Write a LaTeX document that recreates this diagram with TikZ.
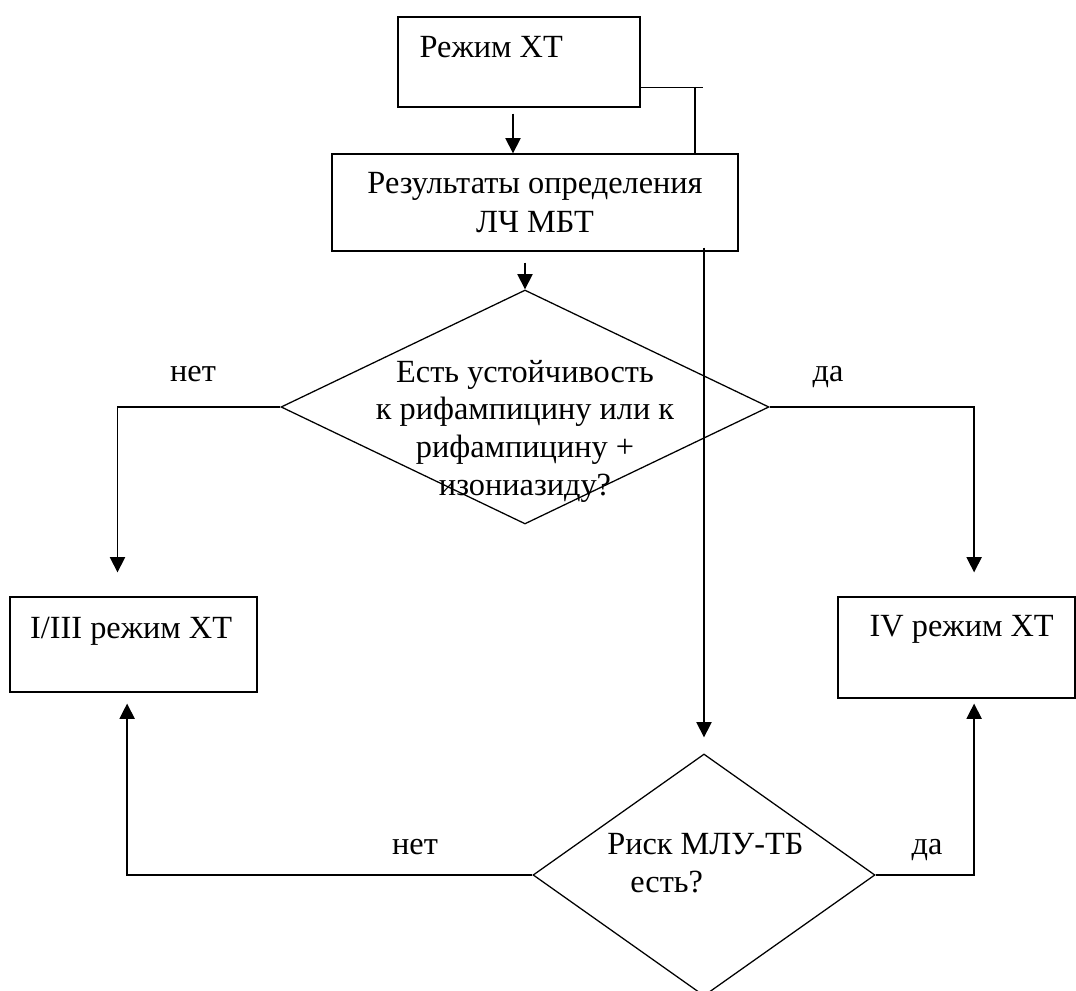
\documentclass[tikz,border=0pt]{standalone}
\usepackage{fontspec}
\setmainfont{Liberation Serif}
\usetikzlibrary{arrows.meta,positioning,shapes.geometric,calc}

\begin{document}
\begin{tikzpicture}[
  box/.style={draw, line width=0.9pt, inner sep=0pt},
  dia/.style={draw, diamond, line width=0.9pt, inner sep=0pt},
  txt/.style={font=\fontsize{23}{27}\selectfont, inner sep=0pt},
  lbl/.style={font=\fontsize{23}{27}\selectfont, inner sep=0pt, anchor=base},
  ln/.style={line width=0.9pt},
  arr/.style={line width=0.9pt, -{Triangle[length=0.38cm, width=0.38cm]}}]
\useasboundingbox (0,0) rectangle (26.9,24.775);
\node[box, minimum width=6.05cm, minimum height=2.25cm] (xt) at (12.975,23.225) {};
\node[txt, anchor=base west] (xtt) at ([xshift=0.55cm, yshift=0.1cm]xt.west) {Режим ХТ};
\node[box, txt, align=center, minimum width=10.15cm, minimum height=2.425cm] (res) at (13.375,19.7125) {Результаты определения\\[1pt]ЛЧ МБТ};
\node[dia, minimum width=12.2cm, minimum height=5.85cm] (q1) at (13.125,14.6) {};
\node[txt, align=center] (q1t) at ([yshift=-0.61cm]q1.center) {Есть устойчивость\\к рифампицину или к\\рифампицину +\\изониазиду?};
\node[box, minimum width=6.175cm, minimum height=2.375cm] (r13) at (3.3375,8.6625) {};
\node[txt, anchor=base] (r13t) at ([xshift=-0.06cm, yshift=0.155cm]r13.center) {I/III режим ХТ};
\node[box, minimum width=5.925cm, minimum height=2.525cm] (r4) at (23.9125,8.5875) {};
\node[txt, anchor=base] (r4t) at ([xshift=0.13cm, yshift=0.27cm]r4.center) {IV режим ХТ};
\node[dia, minimum width=8.55cm, minimum height=6.05cm] (risk) at (17.6,2.9) {};
\node[txt, align=left, anchor=north west] (riskt) at ([xshift=-2.425cm, yshift=1.055cm]risk.center) {Риск МЛУ-ТБ\\\hspace*{0.575cm}есть?};
\node[lbl] (no1) at (4.825,15.23) {нет};
\node[lbl] (yes1) at (20.7,15.23) {да};
\node[lbl] (no2) at (10.375,3.4175) {нет};
\node[lbl] (yes2) at (23.175,3.4) {да};
\coordinate (j1) at (17.375,22.6);
\draw[ln] ([yshift=0.5cm]xt.south east) -- ++(1.55,0);
\draw[ln] (j1) -- (j1 |- res.north);
\draw[arr] ([xshift=-0.15cm, yshift=-0.15cm]xt.south) -- ([xshift=-0.15cm]xt.south |- res.north);
\draw[arr] ([yshift=-0.275cm]res.south -| q1.north) -- (q1.north);
\draw[arr] ([yshift=0.1cm]res.south -| risk.north) -- ([yshift=0.4cm]risk.north);
\draw[arr] (q1.west) -| ([xshift=-0.4cm, yshift=0.6cm]r13.north);
\draw[arr] (q1.east) -| ([xshift=0.44cm, yshift=0.6cm]r4.north);
\draw[arr] (risk.west) -| ([xshift=-0.16cm, yshift=-0.275cm]r13.south);
\draw[arr] (risk.east) -| ([xshift=0.44cm, yshift=-0.125cm]r4.south);
\end{tikzpicture}
\end{document}
